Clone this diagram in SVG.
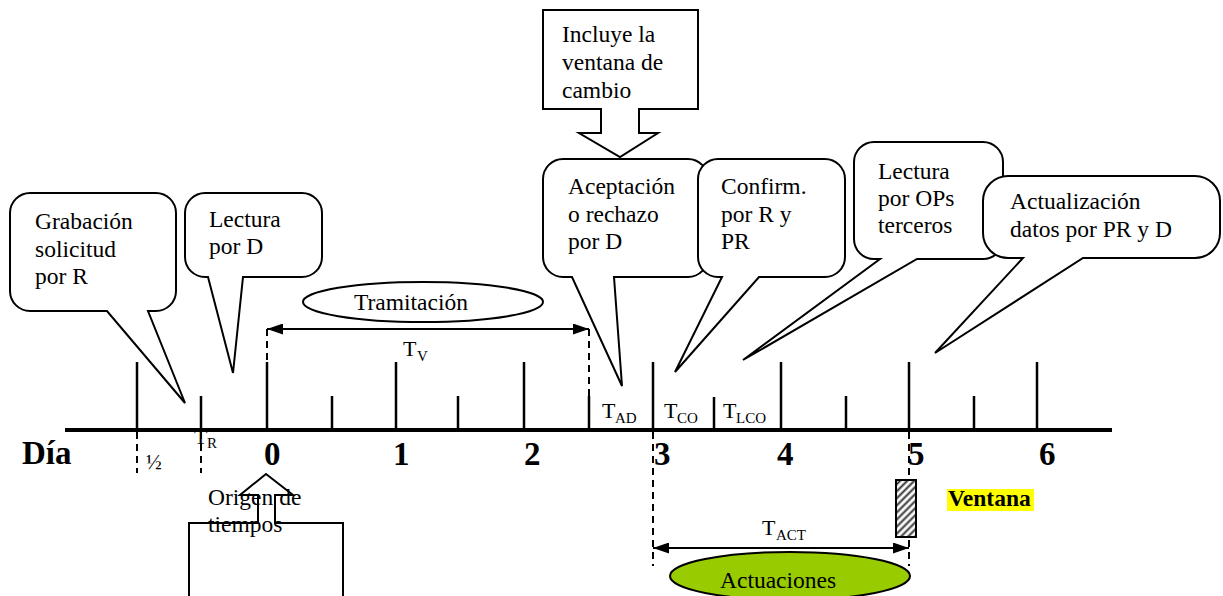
<svg xmlns="http://www.w3.org/2000/svg" width="1223" height="596" viewBox="0 0 1223 596">
<style>
.t{font-family:"Liberation Serif","Times New Roman",serif;font-size:23.5px;fill:#000}
.lbl{font-family:"Liberation Serif","Times New Roman",serif;font-size:22px;fill:#000}
.sub{font-family:"Liberation Serif","Times New Roman",serif;font-size:15px;fill:#000}
.day{font-family:"Liberation Serif","Times New Roman",serif;font-size:33px;font-weight:bold;fill:#000}
.co{fill:#fff;stroke:#000;stroke-width:2;stroke-linejoin:miter}
.tick{stroke:#000;stroke-width:2.5}
.dash{stroke:#000;stroke-width:2;stroke-dasharray:7 5;fill:none}
.arr{stroke:#000;stroke-width:2;fill:none}
</style>
<defs>
<marker id="ah" viewBox="0 0 16 11" refX="16" refY="5.5" markerWidth="16" markerHeight="11" orient="auto-start-reverse" markerUnits="userSpaceOnUse">
<path d="M0,0 L16,5.5 L0,11 Z" fill="#000"/>
</marker>
<pattern id="hatch" width="5" height="5" patternUnits="userSpaceOnUse" patternTransform="rotate(45)">
<rect width="5" height="5" fill="#fff"/>
<line x1="1.5" y1="0" x2="1.5" y2="5" stroke="#333" stroke-width="2"/>
</pattern>
</defs>

<g id="axis">
<line x1="65" y1="430" x2="1112" y2="430" stroke="#000" stroke-width="4"/>
<line class="tick" x1="137" y1="362" x2="137" y2="430"/>
<line class="tick" x1="201" y1="396" x2="201" y2="430"/>
<line class="tick" x1="267" y1="362" x2="267" y2="430"/>
<line class="tick" x1="332" y1="396" x2="332" y2="430"/>
<line class="tick" x1="396" y1="362" x2="396" y2="430"/>
<line class="tick" x1="458" y1="396" x2="458" y2="430"/>
<line class="tick" x1="524" y1="362" x2="524" y2="430"/>
<line class="tick" x1="589" y1="396" x2="589" y2="430"/>
<line class="tick" x1="653" y1="362" x2="653" y2="430"/>
<line class="tick" x1="714" y1="397" x2="714" y2="430"/>
<line class="tick" x1="781" y1="362" x2="781" y2="430"/>
<line class="tick" x1="846" y1="396" x2="846" y2="430"/>
<line class="tick" x1="909" y1="362" x2="909" y2="430"/>
<line class="tick" x1="974" y1="396" x2="974" y2="430"/>
<line class="tick" x1="1037" y1="362" x2="1037" y2="430"/>
<text class="day" x="22" y="464">Día</text>
<text class="day" x="264" y="465">0</text>
<text class="day" x="393" y="465">1</text>
<text class="day" x="524" y="465">2</text>
<text class="day" x="654" y="465">3</text>
<text class="day" x="777" y="465">4</text>
<text class="day" x="908" y="465">5</text>
<text class="day" x="1039" y="465">6</text>
<text x="146" y="469" style="font-family:'Liberation Serif',serif;font-size:21px">½</text>
<text class="lbl" x="194" y="444">T</text>
<text class="sub" x="207" y="448">R</text>
</g>

<g id="connectors">
<line class="dash" x1="267" y1="329" x2="267" y2="362"/>
<line class="dash" x1="589" y1="329" x2="589" y2="396"/>
<line class="dash" x1="137" y1="432" x2="137" y2="473"/>
<line class="dash" x1="201" y1="432" x2="201" y2="473"/>
<line class="dash" x1="653" y1="432" x2="653" y2="566"/>
<line class="dash" x1="909" y1="432" x2="909" y2="566"/>
<line class="arr" x1="267" y1="329" x2="589" y2="329" marker-start="url(#ah)" marker-end="url(#ah)"/>
<line class="arr" x1="653" y1="548" x2="909" y2="548" marker-start="url(#ah)" marker-end="url(#ah)"/>
</g>

<g id="labels">
<text class="lbl" x="403" y="356">T</text><text class="sub" x="417" y="361">V</text>
<text class="lbl" x="602" y="418">T</text><text class="sub" x="615" y="423">AD</text>
<text class="lbl" x="664" y="418">T</text><text class="sub" x="677" y="423">CO</text>
<text class="lbl" x="723" y="418">T</text><text class="sub" x="736" y="423">LCO</text>
<text class="lbl" x="762" y="535">T</text><text class="sub" x="776" y="540">ACT</text>
</g>

<g id="tramitacion">
<ellipse cx="423" cy="302" rx="120" ry="20" fill="#fff" stroke="#000" stroke-width="2"/>
<text class="t" x="354" y="310">Tramitación</text>
</g>

<g id="grabacion">
<path class="co" d="M30,193 H156 A20,20 0 0 1 176,213 V291 A20,20 0 0 1 156,311 H148 L185,403 L107,311 H30 A20,20 0 0 1 10,291 V213 A20,20 0 0 1 30,193 Z"/>
<text class="t" x="35" y="229">Grabación</text>
<text class="t" x="35" y="257">solicitud</text>
<text class="t" x="35" y="284">por R</text>
</g>

<g id="lectura-d">
<path class="co" d="M205,193 H302 A20,20 0 0 1 322,213 V257 A20,20 0 0 1 302,277 H243 L233,373 L208,277 H205 A20,20 0 0 1 185,257 V213 A20,20 0 0 1 205,193 Z"/>
<text class="t" x="209" y="227">Lectura</text>
<text class="t" x="209" y="254">por D</text>
</g>

<g id="incluye">
<path class="co" d="M543,10 H698 V109 H639 V133 H658 L620,157 L579,133 H601 V109 H543 Z"/>
<text class="t" x="562" y="42">Incluye la</text>
<text class="t" x="562" y="70">ventana de</text>
<text class="t" x="562" y="98">cambio</text>
</g>

<g id="aceptacion">
<path class="co" d="M563,159 H688 A20,20 0 0 1 708,179 V257 A20,20 0 0 1 688,277 H614 L622,386 L572,277 H563 A20,20 0 0 1 543,257 V179 A20,20 0 0 1 563,159 Z"/>
<text class="t" x="568" y="194">Aceptación</text>
<text class="t" x="568" y="222">o rechazo</text>
<text class="t" x="568" y="249">por D</text>
</g>

<g id="confirm">
<path class="co" d="M718,159 H825 A20,20 0 0 1 845,179 V257 A20,20 0 0 1 825,277 H759 L675,372 L722,277 H718 A20,20 0 0 1 698,257 V179 A20,20 0 0 1 718,159 Z"/>
<text class="t" x="721" y="194">Confirm.</text>
<text class="t" x="721" y="222">por R y</text>
<text class="t" x="721" y="249">PR</text>
</g>

<g id="lectura-ops">
<path class="co" d="M874,142 H983 A20,20 0 0 1 1003,162 V239 A20,20 0 0 1 983,259 H917 L743,360 L880,259 H874 A20,20 0 0 1 854,239 V162 A20,20 0 0 1 874,142 Z"/>
<text class="t" x="878" y="179">Lectura</text>
<text class="t" x="878" y="206">por OPs</text>
<text class="t" x="878" y="233">terceros</text>
</g>

<g id="actualizacion">
<path class="co" d="M1008,176 H1195 A25,25 0 0 1 1220,201 V233 A25,25 0 0 1 1195,258 H1083 L935,353 L1023,258 H1008 A25,25 0 0 1 983,233 V201 A25,25 0 0 1 1008,176 Z"/>
<text class="t" x="1010" y="209">Actualización</text>
<text class="t" x="1010" y="237">datos por PR y D</text>
</g>

<g id="origen">
<path class="co" d="M189,600 V523 H258 V495 H240 L266,474 L293,495 H275 V523 H343 V600"/>
<text class="t" x="208" y="505">Origen de</text>
<text class="t" x="208" y="532">tiempos</text>
</g>

<g id="ventana">
<rect x="896" y="480" width="20" height="57" fill="url(#hatch)" stroke="#000" stroke-width="2"/>
<rect x="947" y="489" width="87" height="22" fill="#ffff00"/>
<text x="948" y="506" style="font-family:'Liberation Serif',serif;font-size:23.5px;font-weight:bold">Ventana</text>
</g>

<g id="actuaciones">
<ellipse cx="790" cy="576" rx="120" ry="24" fill="#99cc00" stroke="#000" stroke-width="2"/>
<text class="t" x="720" y="588">Actuaciones</text>
</g>
</svg>
